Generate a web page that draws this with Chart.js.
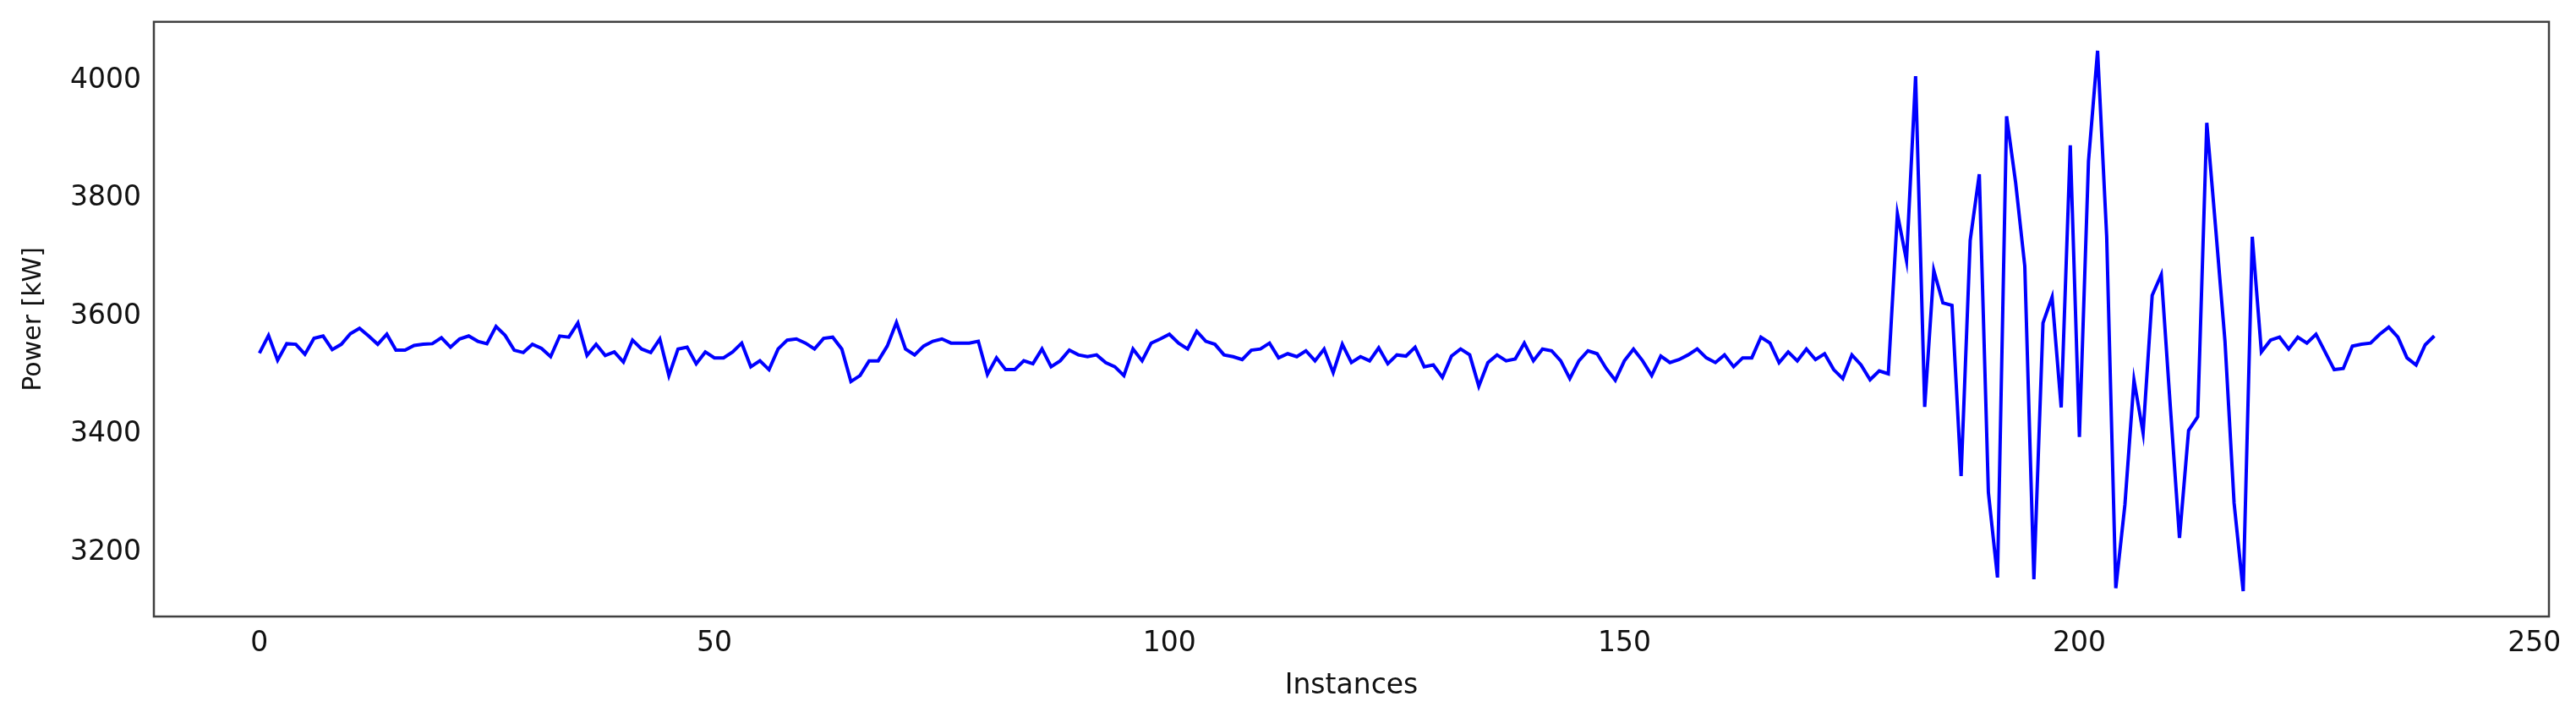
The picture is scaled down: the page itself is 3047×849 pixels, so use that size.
<!DOCTYPE html>
<html><head><meta charset="utf-8">
<script src="https://cdn.jsdelivr.net/npm/chart.js@4"></script>
<style>html,body{margin:0;padding:0;background:#fff}#w{width:3047px;height:849px}</style>
</head><body><div id="w"><canvas id="c"></canvas></div>
<script>
const instances = Array.from({length:240},(_,i)=>i);
const power = [
3538,3568,3526,3554,3553,3536,3563,3567,3544,3553,3571,3580,3567,3553,3570,3543,3543,3551,3553,3554,
3564,3548,3562,3567,3558,3554,3583,3568,3543,3539,3553,3546,3532,3567,3565,3589,3534,3553,3534,3540,
3523,3560,3545,3539,3562,3500,3545,3548,3520,3540,3530,3530,3540,3555,3515,3525,3510,3545,3560,3562,
3555,3545,3563,3565,3545,3490,3500,3525,3525,3550,3590,3545,3535,3550,3558,3562,3555,3555,3555,3558,
3502,3530,3510,3510,3525,3520,3545,3515,3525,3543,3535,3532,3535,3522,3515,3500,3545,3525,3555,3562,
3570,3555,3545,3575,3558,3553,3535,3532,3527,3543,3545,3555,3530,3537,3532,3542,3525,3545,3505,3553,
3522,3532,3525,3547,3520,3535,3533,3548,3515,3518,3497,3533,3545,3535,3482,3522,3535,3525,3528,3555,
3525,3545,3542,3525,3495,3525,3542,3537,3512,3492,3525,3545,3525,3500,3533,3522,3527,3535,3545,3530,
3522,3535,3515,3530,3530,3565,3555,3522,3540,3525,3545,3527,3537,3510,3495,3535,3518,3493,3508,3503,
3774,3695,4007,3447,3678,3623,3619,3330,3729,3841,3302,3158,3939,3826,3685,3155,3589,3633,3446,3890,
3396,3863,4050,3735,3140,3281,3492,3403,3636,3671,3446,3225,3407,3430,3928,3745,3558,3284,3135,3735,
3540,3560,3565,3545,3565,3555,3570,3540,3510,3512,3550,3553,3555,3570,3582,3565,3530,3518,3552,3567];
const xTicks = [0,50,100,150,200,250];
const yTicks = [3200,3400,3600,3800,4000];
const border = {id:'border',afterDraw(ch){const a=ch.chartArea,g=ch.ctx;g.save();g.strokeStyle='#404040';g.lineWidth=2.5;g.strokeRect(a.left,a.top,a.right-a.left,a.bottom-a.top);g.restore();}};
const font = {family:'DejaVu Sans',size:33};
new Chart(document.getElementById('c'),{
type:'line',
data:{datasets:[{data:instances.map((x,i)=>({x,y:power[i]})),borderColor:'#0000ff',borderWidth:4,pointRadius:0,tension:0,fill:false}]},
options:{responsive:true,maintainAspectRatio:false,animation:false,
layout:{padding:{top:24,right:32,left:18,bottom:14}},
plugins:{legend:{display:false},tooltip:{enabled:false}},
scales:{
x:{type:'linear',min:-11.6,max:251.6,
 afterBuildTicks(s){s.ticks=xTicks.map(v=>({value:v}));},
 afterFit(s){s.height=106;},
 grid:{display:false,drawTicks:true,tickLength:9,tickColor:'#404040',drawOnChartArea:false},border:{display:false},
 ticks:{font,color:'#111',padding:4,maxRotation:0,callback:v=>String(v)},
 title:{display:true,text:'Instances',font,color:'#111',padding:{top:0}}},
y:{min:3092,max:4099,
 afterBuildTicks(s){s.ticks=yTicks.map(v=>({value:v}));},
 afterFit(s){s.width=164;},
 grid:{display:false,drawTicks:true,tickLength:9,tickColor:'#404040',drawOnChartArea:false},border:{display:false},
 ticks:{font,color:'#111',padding:6,callback:v=>String(v)},
 title:{display:true,text:'Power [kW]',font:{family:'DejaVu Sans',size:30},color:'#111',padding:{bottom:4}}}
}},
plugins:[border]});
</script></body></html>
